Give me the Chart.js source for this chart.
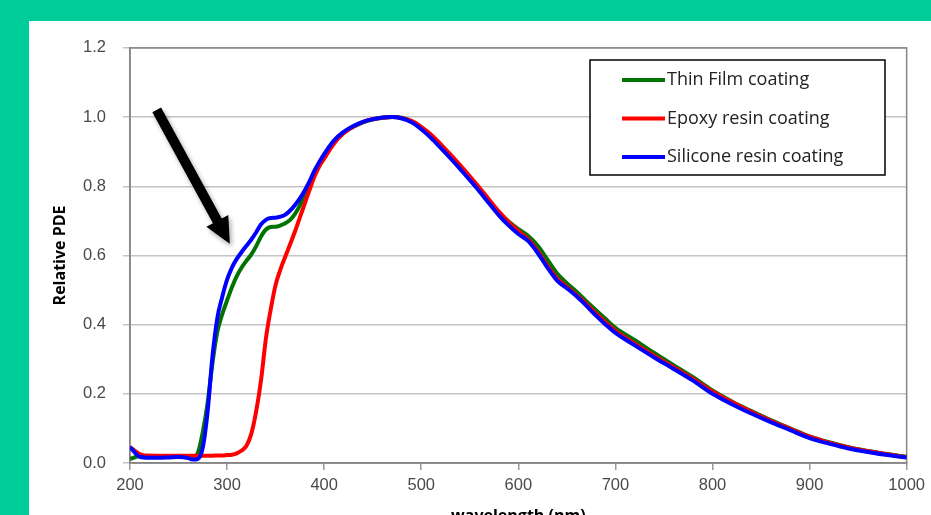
<!DOCTYPE html>
<html>
<head>
<meta charset="utf-8">
<script src="https://cdn.jsdelivr.net/npm/chart.js@4/dist/chart.umd.min.js"></script>
<style>
  html, body { margin: 0; padding: 0; }
  body { width: 931px; height: 515px; background: #00CC99; overflow: hidden; position: relative; }
  #panel { position: absolute; left: 29px; top: 21px; width: 902px; height: 494px; background: #ffffff; overflow: hidden; }
  #chart { display: block; }
</style>
</head>
<body>
<div id="panel"><canvas id="chart" width="902" height="515"></canvas></div>
<script>
// Wavelength sample points (nm)
const wavelengths = [
  200, 210, 220, 230, 240, 250, 260, 265, 270, 275, 280, 285, 290, 295, 300,
  305, 310, 315, 320, 325, 330, 335, 340, 345, 350, 355, 360, 365, 370, 375,
  380, 385, 390, 395, 400, 410, 420, 430, 440, 450, 460, 470, 480, 490, 500,
  510, 520, 530, 540, 550, 560, 570, 580, 590, 600, 610, 620, 630, 640, 650,
  660, 670, 680, 690, 700, 720, 740, 760, 780, 800, 820, 840, 860, 880, 900,
  920, 940, 960, 980, 1000
];

// Relative PDE, thin film coating
const thinFilm = [
  0.012, 0.020, 0.021, 0.020, 0.019, 0.018, 0.017, 0.018, 0.030, 0.090, 0.175, 0.290, 0.380, 0.430, 0.470,
  0.508, 0.540, 0.565, 0.585, 0.603, 0.627, 0.655, 0.675, 0.682, 0.683, 0.687, 0.693, 0.703, 0.720, 0.745,
  0.775, 0.808, 0.842, 0.868, 0.890, 0.928, 0.955, 0.972, 0.985, 0.993, 0.998, 1.000, 0.998, 0.988, 0.970,
  0.946, 0.918, 0.888, 0.857, 0.825, 0.792, 0.758, 0.725, 0.698, 0.676, 0.657, 0.628, 0.588, 0.548, 0.520,
  0.495, 0.468, 0.442, 0.416, 0.391, 0.355, 0.318, 0.283, 0.248, 0.210, 0.178, 0.150, 0.124, 0.100, 0.077,
  0.060, 0.046, 0.035, 0.026, 0.018
];

// Relative PDE, epoxy resin coating
const epoxyResin = [
  0.046, 0.026, 0.021, 0.021, 0.021, 0.021, 0.021, 0.021, 0.021, 0.021, 0.021, 0.021, 0.022, 0.022, 0.023,
  0.024, 0.028, 0.036, 0.050, 0.085, 0.150, 0.240, 0.360, 0.445, 0.515, 0.560, 0.597, 0.633, 0.670, 0.710,
  0.750, 0.790, 0.828, 0.858, 0.880, 0.923, 0.953, 0.972, 0.986, 0.994, 0.998, 1.000, 0.997, 0.989, 0.972,
  0.950, 0.922, 0.892, 0.861, 0.829, 0.796, 0.761, 0.727, 0.697, 0.671, 0.647, 0.613, 0.570, 0.533, 0.509,
  0.486, 0.460, 0.432, 0.406, 0.382, 0.345, 0.310, 0.277, 0.243, 0.207, 0.176, 0.148, 0.122, 0.099, 0.076,
  0.059, 0.045, 0.034, 0.025, 0.017
];

// Relative PDE, silicone resin coating
const siliconeResin = [
  0.046, 0.018, 0.015, 0.015, 0.016, 0.017, 0.014, 0.010, 0.012, 0.045, 0.150, 0.310, 0.420, 0.480, 0.530,
  0.565, 0.590, 0.610, 0.628, 0.646, 0.667, 0.690, 0.703, 0.708, 0.709, 0.712, 0.718, 0.730, 0.746, 0.765,
  0.788, 0.815, 0.845, 0.870, 0.893, 0.932, 0.957, 0.974, 0.986, 0.994, 0.999, 1.000, 0.996, 0.985, 0.965,
  0.940, 0.911, 0.881, 0.850, 0.818, 0.785, 0.750, 0.716, 0.687, 0.662, 0.642, 0.607, 0.565, 0.527, 0.505,
  0.482, 0.455, 0.426, 0.400, 0.376, 0.340, 0.305, 0.272, 0.238, 0.200, 0.170, 0.143, 0.118, 0.095, 0.072,
  0.056, 0.042, 0.032, 0.023, 0.016
];

const seriesNames = ['Thin Film coating', 'Epoxy resin coating', 'Silicone resin coating'];
const seriesColors = ['#007300', '#FF0000', '#0000FF'];

// Arrow pointing at the thin-film / silicone shoulder, in data units
const arrowFrom = { x: 227.5, y: 1.021 };
const arrowTo = { x: 302.8, y: 0.634 };

const pts = vals => wavelengths.map((w, i) => ({ x: w, y: vals[i] }));

// Frame around the plot area (top and right edges included)
const plotFrame = {
  id: 'plotFrame',
  beforeDatasetsDraw(chart) {
    const { ctx, chartArea: a } = chart;
    ctx.save();
    ctx.strokeStyle = '#858585';
    ctx.lineWidth = 1.5;
    ctx.strokeRect(a.left, a.top, a.right - a.left, a.bottom - a.top);
    ctx.restore();
  }
};

// Thick black arrow with a soft shadow
const arrowPlugin = {
  id: 'arrowPlugin',
  afterDatasetsDraw(chart) {
    const { ctx, scales: { x, y } } = chart;
    const x0 = x.getPixelForValue(arrowFrom.x), y0 = y.getPixelForValue(arrowFrom.y);
    const x1 = x.getPixelForValue(arrowTo.x), y1 = y.getPixelForValue(arrowTo.y);
    const ang = Math.atan2(y1 - y0, x1 - x0);
    const len = Math.hypot(x1 - x0, y1 - y0);
    const headLen = 26, headHalf = 12.5, shaft = 5;
    ctx.save();
    ctx.translate(x0, y0);
    ctx.rotate(ang);
    ctx.shadowColor = 'rgba(0,0,0,0.35)';
    ctx.shadowBlur = 5;
    ctx.shadowOffsetX = 2;
    ctx.shadowOffsetY = 3;
    ctx.fillStyle = '#000000';
    ctx.beginPath();
    ctx.moveTo(0, -shaft);
    ctx.lineTo(len - headLen, -shaft);
    ctx.lineTo(len - headLen, -headHalf);
    ctx.lineTo(len, 0);
    ctx.lineTo(len - headLen, headHalf);
    ctx.lineTo(len - headLen, shaft);
    ctx.lineTo(0, shaft);
    ctx.closePath();
    ctx.fill();
    ctx.restore();
  }
};

// Boxed legend in the upper right of the plot
const boxLegend = {
  id: 'boxLegend',
  afterDraw(chart) {
    const { ctx } = chart;
    const bx = 561, by = 39, bw = 295, bh = 115;
    ctx.save();
    ctx.fillStyle = '#ffffff';
    ctx.fillRect(bx, by, bw, bh);
    ctx.strokeStyle = '#000000';
    ctx.lineWidth = 1.5;
    ctx.strokeRect(bx, by, bw, bh);
    ctx.font = '18px "Open Sans", sans-serif';
    ctx.textBaseline = 'middle';
    ctx.textAlign = 'left';
    chart.data.datasets.forEach((ds, i) => {
      const ly = by + 20 + i * 38.5;
      ctx.strokeStyle = ds.borderColor;
      ctx.lineWidth = 4;
      ctx.beginPath();
      ctx.moveTo(bx + 32, ly);
      ctx.lineTo(bx + 75, ly);
      ctx.stroke();
      ctx.fillStyle = '#222222';
      ctx.fillText(ds.label, bx + 77, ly);
    });
    ctx.restore();
  }
};

new Chart(document.getElementById('chart'), {
  type: 'line',
  data: {
    datasets: [
      { label: seriesNames[0], data: pts(thinFilm), borderColor: seriesColors[0], order: 2 },
      { label: seriesNames[1], data: pts(epoxyResin), borderColor: seriesColors[1], order: 1 },
      { label: seriesNames[2], data: pts(siliconeResin), borderColor: seriesColors[2], order: 0 }
    ]
  },
  options: {
    responsive: false,
    animation: false,
    events: [],
    datasets: {
      line: {
        borderWidth: 4,
        pointRadius: 0,
        fill: false,
        cubicInterpolationMode: 'monotone'
      }
    },
    layout: { padding: { left: 0, top: 22, right: 23, bottom: 0 } },
    plugins: {
      legend: { display: false },
      tooltip: { enabled: false }
    },
    scales: {
      x: {
        type: 'linear',
        min: 200,
        max: 1000,
        afterFit(scale) { scale.height = 73; },
        ticks: {
          stepSize: 100,
          padding: 6,
          color: '#4a4a4a',
          font: { family: '"Liberation Sans", Arial, sans-serif', size: 16.5 },
          callback: v => String(v)
        },
        grid: { drawOnChartArea: false, drawTicks: true, tickLength: 7, color: '#9a9a9a', lineWidth: 1.5 },
        border: { display: true, color: '#858585', width: 1.5 },
        title: {
          display: true,
          text: 'wavelength (nm)',
          color: '#000000',
          font: { family: '"Open Sans", sans-serif', size: 16, weight: 'bold' },
          padding: { top: 0, bottom: 10 }
        }
      },
      y: {
        min: 0,
        max: 1.2,
        afterFit(scale) { scale.width = 101; },
        ticks: {
          stepSize: 0.2,
          padding: 17,
          color: '#4a4a4a',
          font: { family: '"Liberation Sans", Arial, sans-serif', size: 16.5 },
          callback: v => v.toFixed(1)
        },
        grid: { color: '#c4c4c4', lineWidth: 1.5, tickLength: 7 },
        border: { display: true, color: '#858585', width: 1.5 },
        title: {
          display: true,
          text: 'Relative PDE',
          color: '#000000',
          font: { family: '"Open Sans", sans-serif', size: 16, weight: 'bold' },
          padding: { top: 22, bottom: 0 }
        }
      }
    }
  },
  plugins: [plotFrame, arrowPlugin, boxLegend]
});
</script>
</body>
</html>
